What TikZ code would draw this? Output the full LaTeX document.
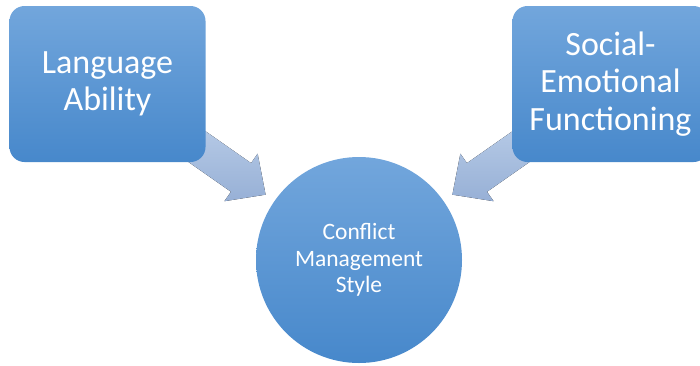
\documentclass[tikz,border=0pt]{standalone}
\usepackage{fontspec}
\setmainfont{Carlito}
\usetikzlibrary{calc}
\definecolor{boxtop}{HTML}{72A6DC}
\definecolor{boxbot}{HTML}{4788CB}
\definecolor{arrtop}{HTML}{BCCFE9}
\definecolor{arrbot}{HTML}{97B0D6}
\begin{document}
\begin{tikzpicture}[x=1pt,y=-1pt,
	box/.style={rectangle,rounded corners=15pt,minimum width=196pt,minimum height=156pt,
		top color=boxtop,bottom color=boxbot,draw=none,text=white,align=center,
		font=\fontsize{34}{37.5}\selectfont},
	hub/.style={circle,minimum size=206pt,inner sep=0pt,top color=boxtop,bottom color=boxbot,
		draw=none,text=white,align=center,font=\fontsize{23.5}{26.5}\selectfont},
	fat/.style={top color=arrtop,bottom color=arrbot,draw=none}]
	\def\hlen{30pt}
	\def\hw{29pt}
	\def\sw{17.5pt}
	\def\alen{120pt}
	\useasboundingbox (0,0) rectangle (700,365);
	\clip (0,0) rectangle (700,365);
	\node[hub] (cms) at (359,260) {Conflict\\Management\\Style};
	\path (107.5,84) coordinate (langpos) (610.5,84) coordinate (socpos);
	% arrows first, boxes on top
	\coordinate (tipL) at ($(cms.center)!114pt!(langpos)$);
	\coordinate (hbL) at ($(tipL)!\hlen!(langpos)$);
	\coordinate (tailL) at ($(tipL)!\alen!(langpos)$);
	\fill[fat] (tipL) -- ($(hbL)!\hw!90:(tipL)$) -- ($(hbL)!\sw!90:(tipL)$) -- ($(tailL)!\sw!90:(tipL)$)
		-- ($(tailL)!\sw!-90:(tipL)$) -- ($(hbL)!\sw!-90:(tipL)$) -- ($(hbL)!\hw!-90:(tipL)$) -- cycle;
	\coordinate (tipS) at ($(cms.center)!114pt!(socpos)$);
	\coordinate (hbS) at ($(tipS)!\hlen!(socpos)$);
	\coordinate (tailS) at ($(tipS)!\alen!(socpos)$);
	\fill[fat] (tipS) -- ($(hbS)!\hw!90:(tipS)$) -- ($(hbS)!\sw!90:(tipS)$) -- ($(tailS)!\sw!90:(tipS)$)
		-- ($(tailS)!\sw!-90:(tipS)$) -- ($(hbS)!\sw!-90:(tipS)$) -- ($(hbS)!\hw!-90:(tipS)$) -- cycle;
	\node[box] (lang) at (langpos) {Language\\Ability};
	\node[box] (soc) at (socpos) {Social-\\Emotional\\Functioning};
\end{tikzpicture}
\end{document}
